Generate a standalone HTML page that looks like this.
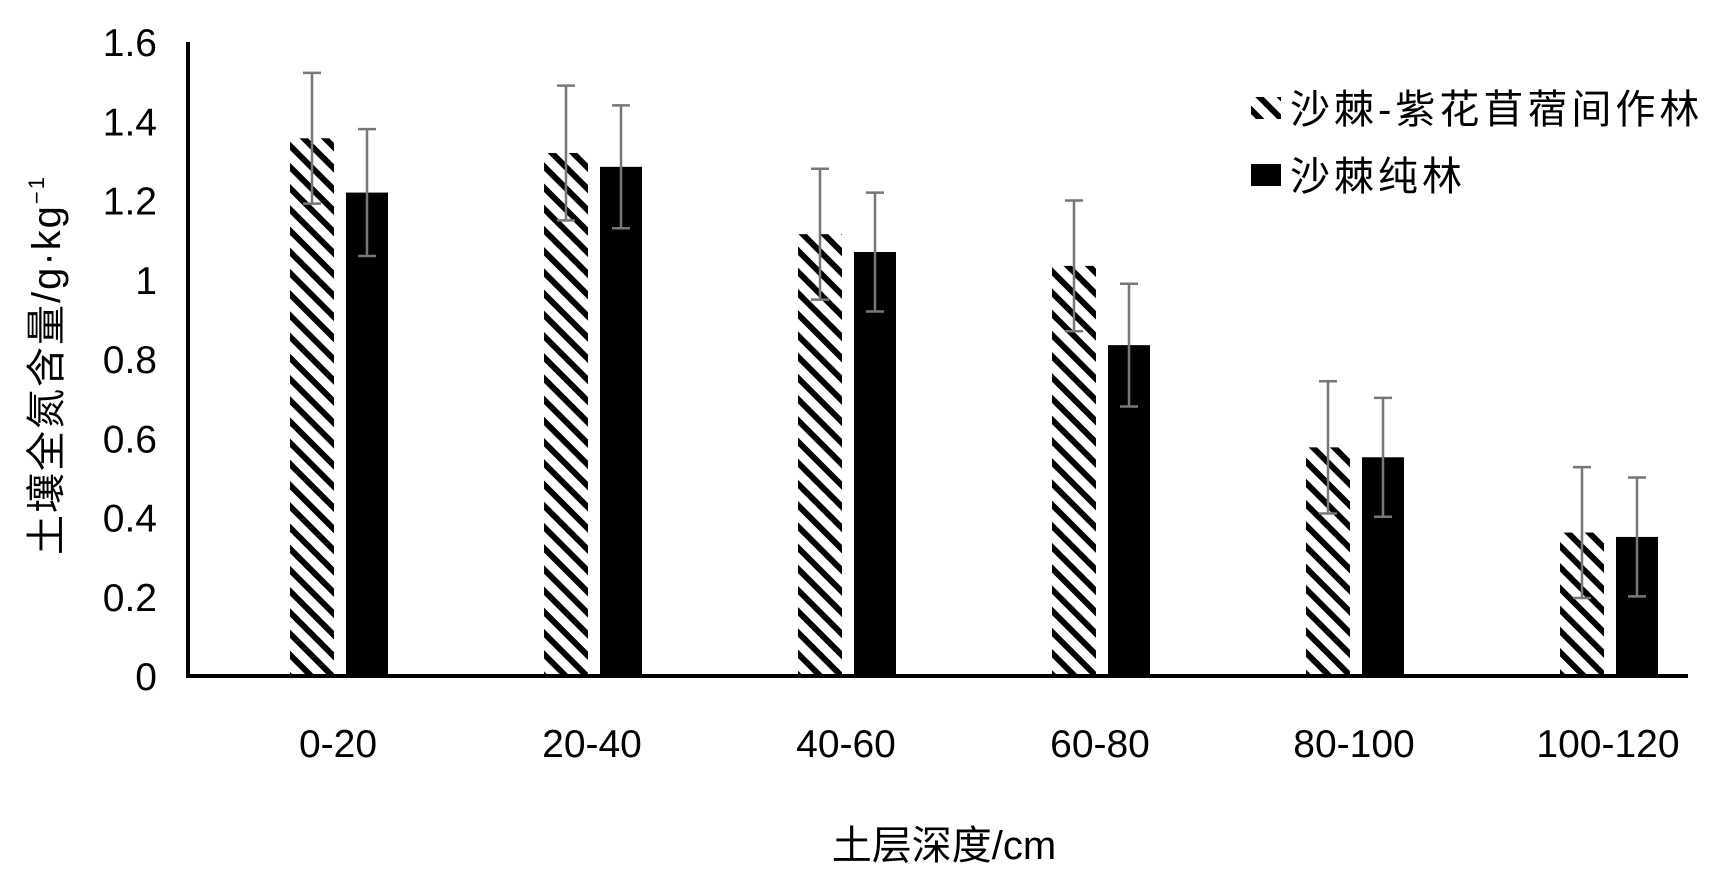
<!DOCTYPE html>
<html><head><meta charset="utf-8"><style>
html,body{margin:0;padding:0;background:#fff;}
svg{display:block;font-family:"Liberation Sans","Noto Sans CJK SC",sans-serif;}
</style></head><body>
<svg id="chart" width="1732" height="887" viewBox="0 0 1732 887">
<defs>
<pattern id="hatch" width="15" height="15" patternUnits="userSpaceOnUse" patternTransform="rotate(45)">
<rect x="0" y="0" width="15" height="6" fill="#000"/>
</pattern>
</defs>
<g id="axes"></g>
<g id="bars"></g>
<text x="0" y="0" transform="translate(60,365) rotate(-90)" text-anchor="middle" font-size="40" letter-spacing="2" fill="#000">土壤全氮含量/g·kg<tspan font-size="22" dy="-16">−1</tspan></text>
<text x="944" y="859" text-anchor="middle" font-size="40" fill="#000">土层深度/cm</text>
<g>
<rect x="1251" y="97" width="30" height="22" fill="url(#hatch)"/>
<text x="1290" y="123" font-size="40" letter-spacing="4">沙棘-紫花苜蓿间作林</text>
<rect x="1251" y="164" width="30" height="22" fill="#000"/>
<text x="1290" y="190" font-size="40" letter-spacing="4">沙棘纯林</text>
</g>
</svg>
<script>
const categories = ["0-20","20-40","40-60","60-80","80-100","100-120"];
const intercrop = [1.357,1.32,1.115,1.035,0.577,0.362];
const intercropErr = [0.165,0.17,0.165,0.165,0.167,0.165];
const pure = [1.22,1.285,1.07,0.835,0.552,0.351];
const pureErr = [0.16,0.155,0.15,0.155,0.15,0.15];
const yTicks = [0,0.2,0.4,0.6,0.8,1,1.2,1.4,1.6];
const yTickLabels = ["0","0.2","0.4","0.6","0.8","1","1.2","1.4","1.6"];

const NS="http://www.w3.org/2000/svg";
const x0=188, x1=1688, yBase=676, yTop=42, yMax=1.6;
function y(v){return yBase-(v/yMax)*(yBase-yTop);}
function cx(i){return 340+254*i;}
function mk(tag,attrs,parent){const e=document.createElementNS(NS,tag);for(const k in attrs)e.setAttribute(k,attrs[k]);parent.appendChild(e);return e;}
const axes=document.getElementById('axes'), bars=document.getElementById('bars');

let ya=mk('line',{x1:x0,y1:yTop,x2:x0,y2:yBase+2,stroke:'#000','stroke-width':4},axes);


yTicks.forEach((t,i)=>{
  const tx=mk('text',{x:157,y:y(t)+14,'text-anchor':'end','font-size':39},axes);
  tx.textContent=yTickLabels[i];
  
  
});
categories.forEach((c,i)=>{
  const cxp=cx(i);
  const b1=mk('rect',{x:cxp-50,y:y(intercrop[i]),width:44,height:yBase-y(intercrop[i]),fill:'url(#hatch)'},bars);
  
  
  const b2=mk('rect',{x:cxp+6,y:y(pure[i]),width:42,height:yBase-y(pure[i]),fill:'#000'},bars);
  
  
  [[cxp-28,intercrop[i],intercropErr[i],'intercrop'],[cxp+27,pure[i],pureErr[i],'pure']].forEach(([ex,v,e,n])=>{
    const g=mk('g',{stroke:'#777','stroke-width':2.5},bars);
    
    
    mk('line',{x1:ex,y1:y(v+e),x2:ex,y2:y(v-e)},g);
    mk('line',{x1:ex-9,y1:y(v+e),x2:ex+9,y2:y(v+e)},g);
    mk('line',{x1:ex-9,y1:y(v-e),x2:ex+9,y2:y(v-e)},g);
  });
  const lb=mk('text',{x:cxp-2,y:757,'text-anchor':'middle','font-size':39},axes);
  lb.textContent=c;
  
  
});
let xa=mk('line',{x1:x0-2,y1:yBase,x2:x1,y2:yBase,stroke:'#000','stroke-width':4},axes);


</script>
</body></html>
